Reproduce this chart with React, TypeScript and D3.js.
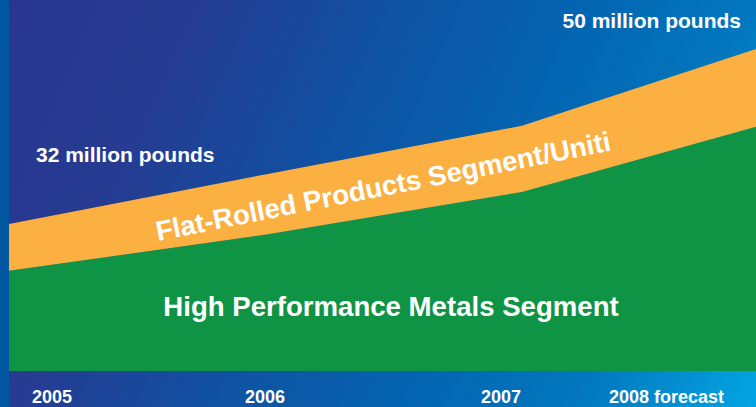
import React from "react";
import * as d3 from "d3";

const years = [2005, 2006, 2007, 2008];
const yearLabels = ["2005", "2006", "2007", "2008 forecast"];
// million pounds (schematic truncated axis)
const highPerformance = [27.2, 30.9, 35.3, 42.0];
const flatRolled = [4.8, 6.2, 6.8, 8.0];
const axisFloor = 16.9;
const totals = highPerformance.map((v, i) => v + flatRolled[i]);
const startLabel = "32 million pounds";
const endLabel = "50 million pounds";

const W = 756;
const H = 407;

export default function App() {
  const x = d3.scaleLinear().domain([2005, 2006, 2007, 2008]).range([9, 265, 522, 756]);
  const y = d3.scaleLinear().domain([axisFloor, 50]).range([371, 49]);
  const labelX = d3.scaleLinear().domain([2005, 2006, 2007, 2008]).range([52, 265, 501, 666.5]);

  const rows = years.map((yr, i) => ({ yr, hpm: highPerformance[i], tot: totals[i] }));

  const greenArea = d3
    .area<any>()
    .x((d) => x(d.yr))
    .y0(() => y(axisFloor))
    .y1((d) => y(d.hpm))(rows) as string;
  const orangeArea = d3
    .area<any>()
    .x((d) => x(d.yr))
    .y0((d) => y(d.hpm))
    .y1((d) => y(d.tot))(rows) as string;

  const font = "'Liberation Sans', Arial, Helvetica, sans-serif";

  // rotated label for flat rolled band
  const fx0 = 158;
  const fy0 = 241;
  const angle = -11.3;

  return (
    <svg
      width={W}
      height={H}
      viewBox={`0 0 ${W} ${H}`}
      style={{ position: "fixed", left: 0, top: 0, display: "block" }}
    >
      <defs>
        <linearGradient id="bg" gradientUnits="userSpaceOnUse" x1={0} y1={0} x2={783} y2={345}>
          <stop offset="0" stopColor="#29368f" />
          <stop offset="0.2" stopColor="#263b91" />
          <stop offset="0.43" stopColor="#0f52a3" />
          <stop offset="0.64" stopColor="#0366b2" />
          <stop offset="0.81" stopColor="#0278bf" />
          <stop offset="1" stopColor="#02a5e3" />
        </linearGradient>
      </defs>
      <rect x={0} y={0} width={W} height={H} fill="url(#bg)" />
      <rect x={0} y={0} width={9} height={H} fill="#0158a0" />
      <path d={greenArea} fill="#0f9344" />
      <path d={orangeArea} fill="#fbb041" />

      <text x={36} y={162} fill="#fff" fontFamily={font} fontWeight="bold" fontSize={21}>
        {startLabel}
      </text>
      <text x={741} y={28} textAnchor="end" fill="#fff" fontFamily={font} fontWeight="bold" fontSize={21}>
        {endLabel}
      </text>
      <text
        x={391}
        y={316}
        textAnchor="middle"
        fill="#fff"
        fontFamily={font}
        fontWeight="bold"
        fontSize={27.6}
      >
        High Performance Metals Segment
      </text>
      <text
        transform={`translate(${fx0},${fy0}) rotate(${angle})`}
        fill="#fff"
        fontFamily={font}
        fontWeight="bold"
        fontSize={27.6}
      >
        Flat-Rolled Products Segment/Uniti
      </text>

      {years.map((yr, i) => (
        <text
          key={yr}
          x={labelX(yr)}
          y={403}
          textAnchor="middle"
          fill="#fff"
          fontFamily={font}
          fontWeight="bold"
          fontSize={18}
        >
          {yearLabels[i]}
        </text>
      ))}
    </svg>
  );
}
